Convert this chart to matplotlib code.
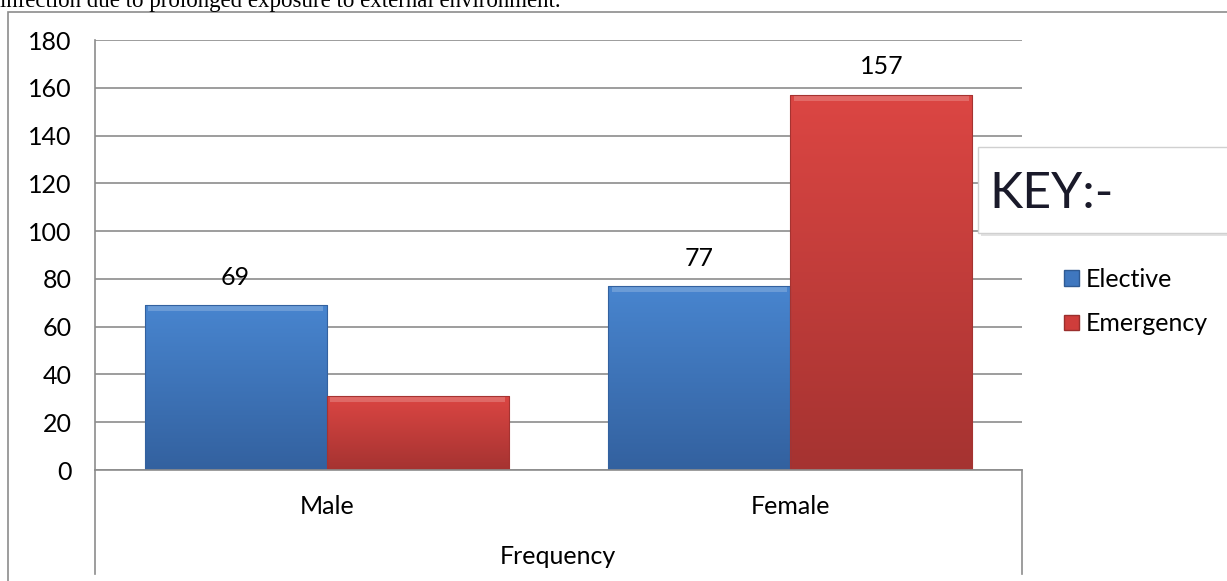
import numpy as np
import matplotlib
matplotlib.use("Agg")
import matplotlib.pyplot as plt
from matplotlib.patches import Rectangle

# Chart data
#
categories = ["Male", "Female"]
series_names = ["Elective", "Emergency"]
elective = [69, 77]
emergency = [31, 157]
elective_labels = ["69", "77"]
emergency_labels = [None, "157"]
y_ticks = [0, 20, 40, 60, 80, 100, 120, 140, 160, 180]

W, H = 1227, 581
FS = 18
plt.rcParams["font.family"] = ["Lato", "DejaVu Sans"]

fig = plt.figure(figsize=(W / 100, H / 100), dpi=100)
fig.patch.set_facecolor("white")


def fx(px):
    return px / W


def fy(py):
    return 1 - py / H


grid_col = "#8c8c8c"

# Outer chart border
#
fig.patches.append(Rectangle((fx(8), fy(640)), fx(1300), fy(12) - fy(640),
                             transform=fig.transFigure, fill=False,
                             edgecolor=grid_col, lw=1.2, zorder=0))

# Clipped caption from the page above the chart
#
fig.text(fx(0), fy(7), "infection due to prolonged exposure to external environment.",
         family=["Liberation Serif"], fontsize=16.5, va="baseline", ha="left")

ax = fig.add_axes([fx(95), fy(470), fx(1022) - fx(95), fy(40) - fy(470)])
ax.set_yticks(y_ticks)
ax.set_yticklabels([str(t) for t in y_ticks], fontsize=FS)
ax.tick_params(axis="y", length=0, pad=17)
ax.set_xticks([])
for s in ["top", "right", "bottom"]:
    ax.spines[s].set_visible(False)
ax.spines["left"].set_color(grid_col)
ax.spines["left"].set_linewidth(1.2)
ax.yaxis.grid(True, color=grid_col, lw=1.2)
ax.set_axisbelow(True)

x = np.arange(len(categories))
bw = 0.393


def gradient_bar(bar, top_col, bot_col):
    # Vertical gradient clipped to the bar, with a lighter bevel on top
    x0, y0 = bar.get_x(), bar.get_y()
    w, h = bar.get_width(), bar.get_height()
    c1 = np.array(matplotlib.colors.to_rgb(top_col))
    c2 = np.array(matplotlib.colors.to_rgb(bot_col))
    t = np.linspace(0, 1, 256)[:, None]
    img = (c1 * (1 - t) + c2 * t)[:, None, :]
    im = ax.imshow(img, extent=[x0, x0 + w, y0, y0 + h], aspect="auto",
                   origin="upper", zorder=2)
    im.set_clip_path(bar)
    bev = min(2.5, h * 0.1)
    ax.add_patch(Rectangle((x0 + 0.008, y0 + h - bev), w - 0.016, bev,
                           facecolor="white", alpha=0.2, lw=0, zorder=3))
    ax.add_patch(Rectangle((x0, y0), w, h, fill=False,
                           edgecolor=bot_col, lw=0.8, zorder=3))


bars_e = ax.bar(x - bw / 2, elective, bw, color="#3f77bf", zorder=2)
bars_m = ax.bar(x + bw / 2, emergency, bw, color="#cf3d3b", zorder=2)
for b in bars_e:
    gradient_bar(b, "#4885cf", "#33619f")
for b in bars_m:
    gradient_bar(b, "#dc4643", "#a53331")
ax.set_xlim(-0.5, 1.5)
ax.set_ylim(0, 180)

for bars, labels in [(bars_e, elective_labels), (bars_m, emergency_labels)]:
    for b, lab in zip(bars, labels):
        if lab is None:
            continue
        ax.annotate(lab, (b.get_x() + b.get_width() / 2, b.get_height()),
                    xytext=(0, 28), textcoords="offset pixels",
                    ha="center", va="center", fontsize=FS)

# Category labels and axis title under the plot
#
for xi, cat in zip(x, categories):
    ax.annotate(cat, (xi, 0), xytext=(0, -37), textcoords="offset pixels",
                ha="center", va="center", fontsize=FS, annotation_clip=False)
fig.text(fx(558), fy(557), "Frequency", ha="center", va="center", fontsize=FS)

# Axis lines running down through the category area
#
for px in [95, 1022]:
    fig.add_artist(plt.Line2D([fx(px), fx(px)], [fy(470), fy(574)],
                              color=grid_col, lw=1.2))
fig.add_artist(plt.Line2D([fx(95), fx(1022)], [fy(470), fy(470)],
                          color=grid_col, lw=1.2, zorder=5))

# "KEY:-" box with a soft shadow
#
fig.patches.append(Rectangle((fx(981), fy(236)), fx(260), fy(148) - fy(236),
                             transform=fig.transFigure, facecolor="#e2e2e2",
                             edgecolor="none", zorder=6))
fig.patches.append(Rectangle((fx(978), fy(233)), fx(260), fy(147) - fy(233),
                             transform=fig.transFigure, facecolor="white",
                             edgecolor="#d0d0d0", lw=1, zorder=7))
fig.text(fx(989), fy(194), "KEY:-", fontsize=36, ha="left", va="center",
         color="#1a1a2a", zorder=8)

handles = [Rectangle((0, 0), 1, 1, facecolor="#3f77bf", edgecolor="#2f5a93"),
           Rectangle((0, 0), 1, 1, facecolor="#cf3d3b", edgecolor="#9a2f2d")]
fig.legend(handles, series_names, loc="upper left",
           bbox_to_anchor=(fx(1064), fy(268)), frameon=False,
           fontsize=FS, handlelength=0.6, handleheight=0.6,
           handletextpad=0.25, labelspacing=0.85, borderpad=0,
           borderaxespad=0)

fig.savefig("out.png", dpi=100, facecolor="white")
